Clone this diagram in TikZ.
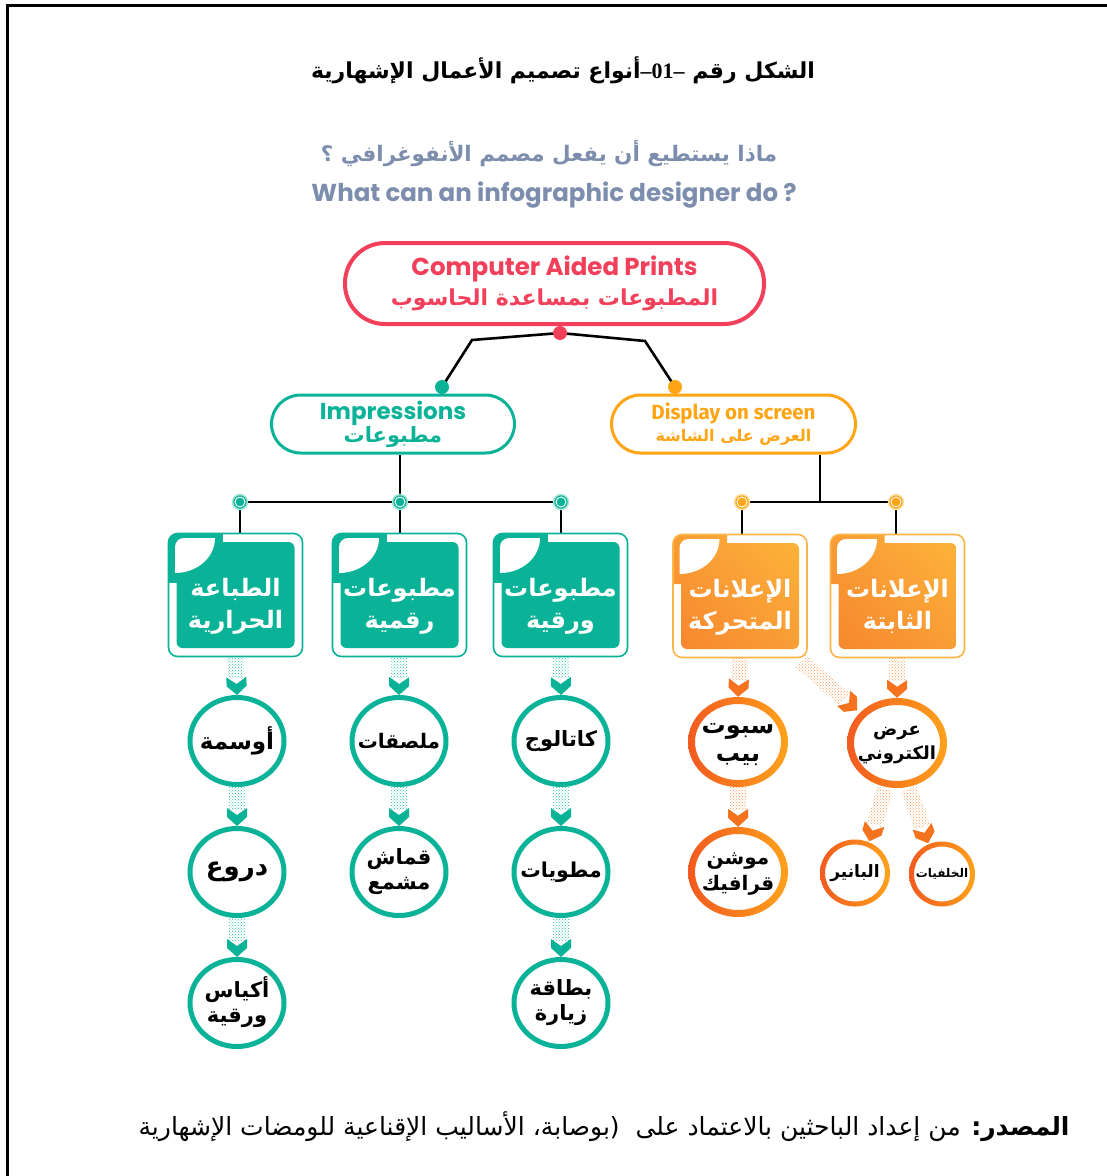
\documentclass[tikz,border=0pt]{standalone}
\usepackage{fontspec}
\usetikzlibrary{calc,patterns,shapes.geometric,backgrounds,shadings}
\TeXXeTstate=1
\setmainfont{Liberation Serif}
\newfontfamily\arb[Script=Arabic]{DejaVu Sans}
\newfontfamily\pop{Poppins}
\newfontfamily\fira{Fira Sans}
\definecolor{tealc}{HTML}{0AB397}
\definecolor{tealdots}{HTML}{2DBFA2}
\definecolor{redc}{HTML}{F2405B}
\definecolor{orgc}{HTML}{FFA412}
\definecolor{slate}{HTML}{7D8DAD}
\definecolor{oboxL}{HTML}{FDB53B}
\definecolor{oboxD}{HTML}{F6852E}
\definecolor{oboxM}{HTML}{F99D35}
\definecolor{oframe}{HTML}{FCB547}
\definecolor{ringL}{HTML}{F25A1F}
\definecolor{ringR}{HTML}{FFA21C}
\definecolor{oarrD}{HTML}{F5731F}
\definecolor{oarrL}{HTML}{F79A55}

\newcommand\twol[3][0pt]{\raisebox{#1}[\height][\depth]{\begin{tabular}{@{}c@{}}\beginR #2\endR\\\beginR #3\endR\end{tabular}}}
\newcommand\ctext[1]{\makebox[0pt]{#1}}

\newcommand\hfar[4]{%
  \path let \p1=#1, \p2=#2 in \pgfextra{%
    \pgfmathsetmacro\hfang{atan2(\y2-\y1,\x2-\x1)}%
    \pgfmathsetmacro\hflen{veclen(\x2-\x1,\y2-\y1)}%
    \xdef\hfang{\hfang}\xdef\hflen{\hflen}%
    \xdef\hfx{\x1}\xdef\hfy{\y1}};
  \begin{scope}[shift={(\hfx,\hfy)},rotate=\hfang,x=1pt,y=1pt]
    \fill[pattern=crosshatch dots,pattern color=#3] (0,-8) rectangle (\hflen-17,8);
    \fill[#4] (\hflen-18,-10) -- (\hflen-11,0) -- (\hflen-18,10) -- (\hflen-9,10) -- (\hflen,0) -- (\hflen-9,-10) -- cycle;
  \end{scope}}

\newcommand\oring[5]{\shade[left color=ringL,right color=ringR,even odd rule] (#1.center) ellipse[x radius=#2,y radius=#3] (#1.center) ellipse[x radius=#4,y radius=#5];}

\newcommand\curl{%
  \begin{scope}
    \clip ($(pc)+(-60.5,-57)$) rectangle ($(pc)+(-10,-10)$);
    \fill[white] ($(pc)+(-60.5,-57)$) ellipse[x radius=40,y radius=35];
  \end{scope}}

\begin{document}
\begin{tikzpicture}[x=1pt,y=-1pt,
  conn/.style={line width=2.6,black},
  jdot/.style={circle,fill=#1,draw=#1!35,line width=1.5,minimum size=15,inner sep=0,
    path picture={\draw[white,line width=0.9] (path picture bounding box.center) circle[radius=5];}},
  pdot/.style={circle,fill=#1,minimum size=14,inner sep=0},
  boxbase/.style={line width=1.6,rounded corners=9,minimum width=134,minimum height=123,inner sep=0,
    text=white,font=\arb\bfseries\fontsize{24}{32}\selectfont},
  tbox/.style={boxbase,draw=tealc,
    path picture={
      \coordinate (pc) at (path picture bounding box.center);
      \fill[tealc,sharp corners] ($(pc)+(-70,-65)$) rectangle ($(pc)+(-13,-12)$);
      \fill[tealc,rounded corners=6] ($(pc)+(-59,-53)$) rectangle ($(pc)+(59,53)$);
      \curl}},
  obox/.style={boxbase,draw=oframe,
    path picture={
      \coordinate (pc) at (path picture bounding box.center);
      \shade[lower left=oboxD,upper right=oboxL,upper left=oboxM,lower right=oboxM,rounded corners=6]
        ($(pc)+(-59,-53)$) rectangle ($(pc)+(59,53)$) [sharp corners] ($(pc)+(-70,-65)$) rectangle ($(pc)+(-13,-12)$);
      \curl}},
  tcirc/.style={ellipse,draw=tealc,line width=5,minimum width=94,minimum height=87,inner sep=0,
    font=\arb\bfseries\fontsize{21}{25}\selectfont},
  ocirc/.style={ellipse,fill=white,minimum width=100,minimum height=90,inner sep=0,
    font=\arb\bfseries\fontsize{21}{26}\selectfont},
]
\useasboundingbox (0,0) rectangle (1107,1176);
\begin{scope}[on background layer]
  \fill[white] (0,0) rectangle (1107,1176);
\end{scope}
\draw[line width=3.2] (7.5,1180) -- (7.5,5.5) -- (1110,5.5);

% titles
\node (title) at (563,70) {\arb\bfseries\fontsize{22}{28}\selectfont\beginR الشكل رقم \beginL{\rmfamily\bfseries –01–}\endL أنواع تصميم الأعمال الإشهارية\endR};
\node[text=slate] (qar) at (549,153) {\arb\bfseries\fontsize{21.4}{24}\selectfont\beginR ماذا يستطيع أن يفعل مصمم الأنفوغرافي ؟\endR};
\node[text=slate] (qen) at (554,195) {\pop\bfseries\fontsize{24.5}{28}\selectfont What can an infographic designer do ?};

% top node
\node[draw=redc,line width=4,rounded corners=40,minimum width=419,minimum height=81,align=center,text=redc,inner sep=0,
  font=\fontsize{22}{30}\selectfont] (top) at (554.5,283.5)
  {{\pop\bfseries\fontsize{24.5}{30}\selectfont Computer Aided Prints}\\{\arb\bfseries\fontsize{22}{30}\selectfont\beginR المطبوعات بمساعدة الحاسوب\endR}};

% level 2
\node[draw=tealc,line width=3,rounded corners=29,minimum width=243,minimum height=58,align=center,text=tealc,inner sep=0,
  font=\fontsize{20}{23}\selectfont] (imp) at (393,424)
  {{\pop\bfseries\fontsize{23}{23}\selectfont Impressions}\\{\arb\bfseries\fontsize{21}{23}\selectfont\beginR مطبوعات\endR}};
\node[draw=orgc,line width=3,rounded corners=29,minimum width=244,minimum height=58,align=center,text=orgc,inner sep=0,
  font=\fontsize{18}{22}\selectfont] (disp) at (733.5,424)
  {{\fira\bfseries\fontsize{20.5}{22}\selectfont Display on screen}\\{\arb\bfseries\fontsize{16}{22}\selectfont\beginR العرض على الشاشة\endR}};

% connector dots
\node[pdot=redc] (rd) at (560,333) {};
\coordinate (lb) at (472,340);
\coordinate (rb) at (645,341);
\node[pdot=tealc] (tdot) at (442,387) {};
\node[pdot=orgc] (odot) at (675,387) {};
\node[jdot=tealc] (jt1) at (240,502) {};
\node[jdot=tealc] (jt2) at (400,502) {};
\node[jdot=tealc] (jt3) at (561,502) {};
\node[jdot=orgc] (jo1) at (742,502) {};
\node[jdot=orgc] (jo2) at (896,502) {};
\coordinate (jom) at (820,502);

% boxes
\node[tbox] (b1) at (235.5,595) {\twol[-11pt]{الطباعة}{الحرارية}};
\node[tbox] (b2) at (399.5,595) {\twol[-11pt]{مطبوعات}{رقمية}};
\node[tbox] (b3) at (560.5,595) {\twol[-11pt]{مطبوعات}{ورقية}};
\node[obox] (b4) at (740,596) {\twol[-11pt]{الإعلانات}{المتحركة}};
\node[obox] (b5) at (897.5,596) {\twol[-11pt]{الإعلانات}{الثابتة}};

% connectors (background)
\begin{scope}[on background layer]
  \draw[conn] (rd.center) -- (lb) -- (tdot.center);
  \draw[conn] (rd.center) -- (rb) -- (odot.center);
  \draw[conn] (jt2 |- imp.south) -- (jt2.center);
  \draw[conn] (jt1.center) -- (jt3.center);
  \draw[conn] (jt1.center) -- (jt1 |- b1.north);
  \draw[conn] (jt2.center) -- (jt2 |- b2.north);
  \draw[conn] (jt3.center) -- (jt3 |- b3.north);
  \draw[conn] (jom |- disp.south) -- (jom);
  \draw[conn] (jo1.center) -- (jo2.center);
  \draw[conn] (jo1.center) -- (jo1 |- b4.north);
  \draw[conn] (jo2.center) -- (jo2 |- b5.north);
\end{scope}

% teal circles
\node[tcirc,font=\arb\bfseries\fontsize{23}{25}\selectfont] (c11) at (237,741) {\ctext{\beginR أوسمة\endR}};
\node[tcirc,font=\arb\bfseries\fontsize{26}{25}\selectfont] (c12) at (237,872) {\ctext{\beginR دروع\endR}};
\node[tcirc] (c13) at (237,1003) {\ctext{\twol{أكياس}{ورقية}}};
\node[tcirc,font=\arb\bfseries\fontsize{20}{25}\selectfont] (c21) at (399,741) {\ctext{\beginR ملصقات\endR}};
\node[tcirc] (c22) at (399,872) {\ctext{\twol{قماش}{مشمع}}};
\node[tcirc] (c31) at (561,741) {\ctext{\beginR كاتالوج\endR}};
\node[tcirc,font=\arb\bfseries\fontsize{20.5}{25}\selectfont] (c32) at (561,872) {\ctext{\beginR مطويات\endR}};
\node[tcirc] (c33) at (561,1003) {\ctext{\twol{بطاقة}{زيارة}}};

% orange circles
\node[ocirc,font=\arb\bfseries\fontsize{24}{28}\selectfont] (o1) at (738,742) {\ctext{\twol{سبوت}{بيب}}};
\node[ocirc,font=\arb\bfseries\fontsize{20}{26}\selectfont] (o2) at (738,872) {\ctext{\twol{موشن}{قرافيك}}};
\node[ocirc,font=\arb\bfseries\fontsize{18}{24}\selectfont] (o3) at (897,743) {\ctext{\twol{عرض}{الكتروني}}};
\node[ocirc,minimum width=70,minimum height=67,font=\arb\bfseries\fontsize{17}{20}\selectfont] (o4) at (855,873) {\ctext{\beginR البانير\endR}};
\node[ocirc,minimum width=66,minimum height=65,font=\arb\bfseries\fontsize{12}{15}\selectfont] (o5) at (942,874) {\ctext{\beginR الخلفيات\endR}};
\oring{o1}{50}{45}{43}{38}
\oring{o2}{50}{45}{43}{38}
\oring{o3}{50}{45}{43}{38}
\oring{o4}{35}{33.5}{30}{28.5}
\oring{o5}{33}{32.5}{28}{27.5}

% arrows
\hfar{(b1.south)}{(c11.north)}{tealdots}{tealc}
\hfar{(c11.south)}{(c12.north)}{tealdots}{tealc}
\hfar{(c12.south)}{(c13.north)}{tealdots}{tealc}
\hfar{(b2.south)}{(c21.north)}{tealdots}{tealc}
\hfar{(c21.south)}{(c22.north)}{tealdots}{tealc}
\hfar{(b3.south)}{(c31.north)}{tealdots}{tealc}
\hfar{(c31.south)}{(c32.north)}{tealdots}{tealc}
\hfar{(c32.south)}{(c33.north)}{tealdots}{tealc}
\hfar{(b4.south)}{(o1.north)}{oarrL}{oarrD}
\hfar{(o1.south)}{(o2.north)}{oarrL}{oarrD}
\hfar{(b5.south)}{(o3.north)}{oarrL}{oarrD}
\hfar{($(b4.south east)+(-7,3)$)}{($(o3.140)+(-3,-2)$)}{oarrL}{oarrD}
\hfar{($(o3.255)+(0,2)$)}{($(o4.65)+(0,-1)$)}{oarrL}{oarrD}
\hfar{($(o3.285)+(0,2)$)}{($(o5.115)+(0,-1)$)}{oarrL}{oarrD}

% source
\node[anchor=east] (src) at (1073,1127) {\arb\fontsize{25}{28}\selectfont\beginR{\bfseries المصدر:} من إعداد الباحثين بالاعتماد على \ (بوصابة، الأساليب الإقناعية للومضات الإشهارية\endR};
\end{tikzpicture}
\end{document}
